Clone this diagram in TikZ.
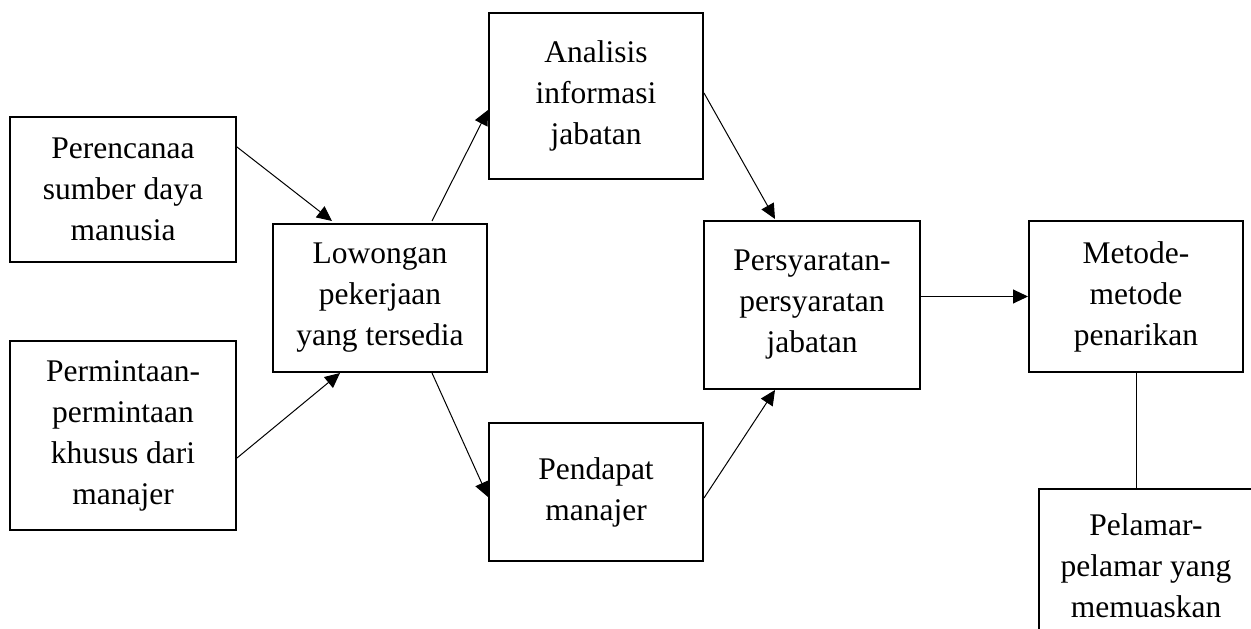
\documentclass[tikz,border=0pt]{standalone}
\usepackage{fontspec}
\setmainfont{Liberation Serif}
\usetikzlibrary{arrows.meta}
\begin{document}
\begin{tikzpicture}[x=1pt,y=1pt,
  box/.style={draw,line width=2pt,align=center,inner sep=0pt,
    font=\fontsize{31.5}{41}\selectfont},
  conn/.style={line width=1pt,-{Triangle[length=15pt,width=14pt]}},
  link/.style={line width=1pt}]
\useasboundingbox (0,0) rectangle (1251,629);
\clip (0,0) rectangle (1251,629);
\node[box,minimum width=226pt,minimum height=145pt] (A) at (123,439.5) {Perencanaa\\sumber daya\\manusia};
\node[box,minimum width=226pt,minimum height=189pt] (B) at (123,193.5) {Permintaan-\\permintaan\\khusus dari\\manajer};
\node[box,minimum width=214pt,minimum height=148pt] (L) at (380,331) {Lowongan\\pekerjaan\\yang tersedia};
\node[box,minimum width=214pt,minimum height=166pt] (An) at (596,533) {Analisis\\informasi\\jabatan};
\node[box,minimum width=214pt,minimum height=138pt] (Pd) at (596,137) {Pendapat\\manajer};
\node[box,minimum width=216pt,minimum height=168pt] (P) at (812,324) {Persyaratan-\\persyaratan\\jabatan};
\node[box,minimum width=214pt,minimum height=151pt] (M) at (1136,332.5) {Metode-\\metode\\penarikan};
\node[box,minimum width=214pt,minimum height=154pt] (Pel) at (1146,63) {Pelamar-\\pelamar yang\\memuaskan};
\draw[conn] ([yshift=42.5pt]A.east) -- ([xshift=-48pt,yshift=2pt]L.north);
\draw[conn] ([yshift=-22.5pt]B.east) -- ([xshift=-40pt]L.south);
\draw[conn] ([xshift=52pt,yshift=2pt]L.north) -- ([yshift=-14pt]An.west);
\draw[conn] ([xshift=52pt]L.south) -- ([yshift=-5pt]Pd.west);
\draw[conn] ([yshift=3pt]An.east) -- ([xshift=-37pt,yshift=1pt]P.north);
\draw[conn] ([yshift=-6pt]Pd.east) -- ([xshift=-37pt]P.south);
\draw[conn] (M.west -| P.east) -- (M.west);
\draw[link] (M.south) -- (M.south |- Pel.north);
\end{tikzpicture}
\end{document}
